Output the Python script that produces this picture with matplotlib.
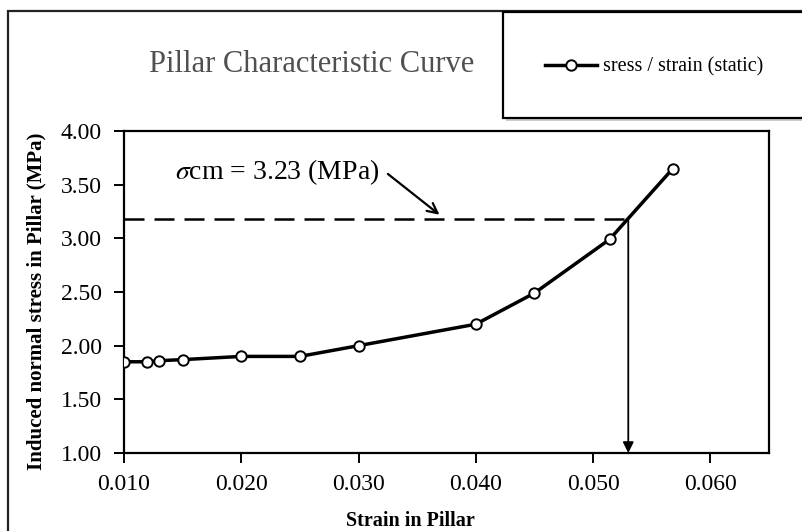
import matplotlib
matplotlib.use("Agg")
import matplotlib.pyplot as plt
from matplotlib.patches import Rectangle
from matplotlib.lines import Line2D

plt.rcParams['font.family'] = ['Liberation Serif', 'DejaVu Serif']
plt.rcParams['mathtext.fontset'] = 'stix'

# data
strain = [0.010, 0.012, 0.013, 0.015, 0.020, 0.025, 0.030, 0.040, 0.045, 0.0514, 0.0568]
stress = [1.85, 1.85, 1.86, 1.87, 1.90, 1.90, 2.00, 2.20, 2.49, 2.99, 3.65]

sigma_cm_line = 3.18      # dashed level as drawn
strain_at_sigma = 0.0530  # where the vertical arrow falls

xticks = [0.010, 0.020, 0.030, 0.040, 0.050, 0.060]
yticks = [1.00, 1.50, 2.00, 2.50, 3.00, 3.50, 4.00]

W, H = 802, 531
fig = plt.figure(figsize=(W / 100, H / 100), dpi=100)
ax = fig.add_axes([124 / W, 1 - 453 / H, (769 - 124) / W, (453 - 131) / H])

# outer frame of the chart (right and bottom edges are cut off)
fig.patches.append(Rectangle((8 / W, -0.1), 1.2, 1 - 11 / H + 0.1, transform=fig.transFigure,
                             fill=False, lw=1.6, ec='#222222', zorder=0))

# dashed sigma_cm line and the arrow down to the strain axis
ax.plot([0.010, strain_at_sigma], [sigma_cm_line, sigma_cm_line], color='black', lw=1.8,
        dashes=(8, 4), zorder=2)
ax.annotate('', xy=(strain_at_sigma, 1.0), xytext=(strain_at_sigma, sigma_cm_line),
            arrowprops=dict(arrowstyle='-|>', color='black', lw=1.3, mutation_scale=16,
                            shrinkA=0, shrinkB=0), zorder=3)

ax.plot(strain, stress, color='black', lw=2.5, marker='o', markersize=7.5,
        markerfacecolor='white', markeredgecolor='black', markeredgewidth=1.4, zorder=4)

ax.text(0.01435, 3.62, r'$\sigma$cm = 3.23 (MPa)', fontsize=20, va='center', ha='left')
ax.annotate('', xy=(0.0369, 3.22), xytext=(0.0325, 3.60),
            arrowprops=dict(arrowstyle='->', color='black', lw=1.6, mutation_scale=18,
                            shrinkA=0, shrinkB=0))

ax.set_xlim(0.010, 0.065)
ax.set_ylim(1.0, 4.0)
ax.set_xticks(xticks)
ax.set_yticks(yticks)
ax.set_xticklabels([f'{v:.3f}' for v in xticks])
ax.set_yticklabels([f'{v:.2f}' for v in yticks])
ax.tick_params(axis='both', direction='out', length=7, width=1.4, labelsize=17,
               colors='black')
ax.tick_params(axis='x', pad=8)
ax.tick_params(axis='y', pad=9)
for s in ax.spines.values():
    s.set_linewidth(1.6)

ax.set_xlabel('Strain in Pillar', fontsize=14.5, fontweight='bold')
ax.xaxis.set_label_coords((410 - 124) / 645, -(521 - 453) / 322)
ax.xaxis.label.set_va('center')
ax.set_ylabel('Induced normal stress in Pillar (MPa)', fontsize=15, fontweight='bold')
ax.yaxis.set_label_coords((36 - 124) / 645, (453 - 301) / 322)
ax.yaxis.label.set_va('center')

fig.text(312 / W, 1 - 65 / H, 'Pillar Characteristic Curve', fontsize=22, color='#505050',
         ha='center', va='center')

# legend box with a shadow
box_h = (118 - 12) / H
fig.patches.append(Rectangle((506 / W, 1 - 121 / H), 1.0, box_h, transform=fig.transFigure,
                             fc='#9a9a9a', ec='none', alpha=0.5, zorder=1))
fig.patches.append(Rectangle((503 / W, 1 - 118 / H), 1.0, box_h, transform=fig.transFigure,
                             fc='white', ec='black', lw=1.6, zorder=2))
handle = Line2D([], [], color='black', lw=2.5, marker='o', markersize=7.5,
                markerfacecolor='white', markeredgecolor='black', markeredgewidth=1.4)
fig.legend([handle], ['sress / strain (static)'], loc='center left',
           bbox_to_anchor=(545 / W, 1 - 67 / H), frameon=False, fontsize=14.5,
           handlelength=2.6, handletextpad=0.3, borderpad=0, borderaxespad=0)

fig.savefig('out.png', dpi=100)
